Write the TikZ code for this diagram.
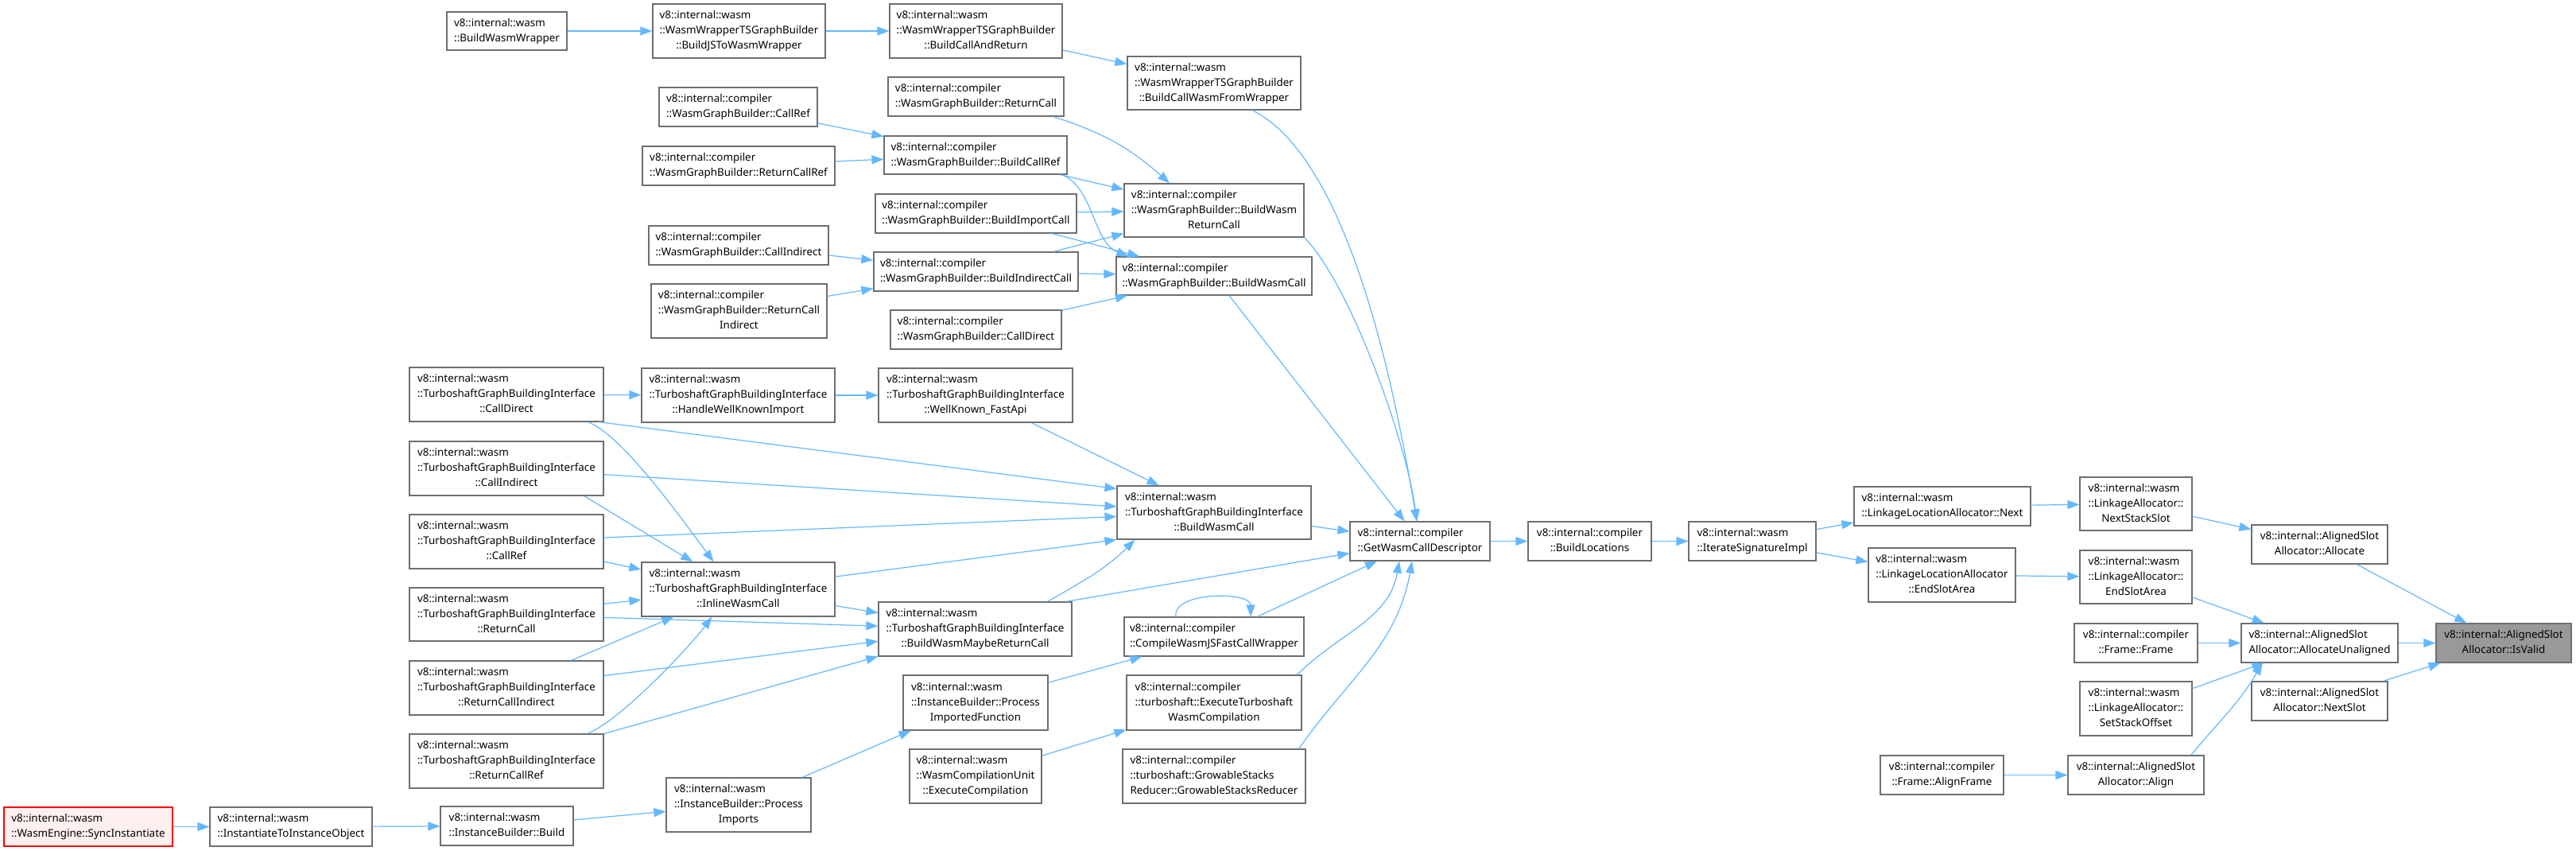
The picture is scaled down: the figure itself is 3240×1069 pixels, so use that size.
\documentclass[tikz,border=0pt]{standalone}
\usepackage{fontspec}
\setmainfont{Noto Sans}
\usetikzlibrary{arrows.meta}

\definecolor{edgeblue}{HTML}{63B8FF}
\definecolor{boxline}{HTML}{6E6E6E}
\definecolor{selfill}{HTML}{999999}
\definecolor{rootfill}{HTML}{FFF0F0}

% label: leading lines flush left, last line centred
\newcommand\fnlabel[2]{\begin{tabular}{@{}l@{}}#1\\\multicolumn{1}{@{}c@{}}{#2}\end{tabular}}
% box from its corners (x1,y1) (x2,y2) in pixels
\newcommand\fnbox[7][]{%
  \pgfmathsetmacro\cx{(#3+#5)/2}\pgfmathsetmacro\cy{(#4+#6)/2}%
  \pgfmathsetmacro\ww{#5-#3}\pgfmathsetmacro\hh{#6-#4}%
  \node[fn,#1,minimum width=\ww pt,minimum height=\hh pt] (#2) at (\cx,\cy) {#7};}

\tikzset{
  fn/.style={draw=boxline,fill=white,line width=1.2pt,inner sep=2pt,
    font=\fontsize{13.4}{19}\selectfont},
  selected/.style={fill=selfill},
  root/.style={draw=red,fill=rootfill},
  call/.style={draw=edgeblue,line width=1.2pt,-{Triangle[length=15pt,width=11pt]}}
}

\begin{document}
\begin{tikzpicture}[x=1pt,y=-1pt]
  \path[use as bounding box,fill=white] (0,0) rectangle (3240,1069);

  % wrapper chain
  \fnbox{wrap}{562}{15}{713}{63}{\fnlabel{v8::internal::wasm}{::BuildWasmWrapper}}
  \fnbox{jsw}{821}{5}{1038}{73}{\fnlabel{v8::internal::wasm\\::WasmWrapperTSGraphBuilder}{::BuildJSToWasmWrapper}}
  \fnbox{callret}{1119}{5}{1336}{73}{\fnlabel{v8::internal::wasm\\::WasmWrapperTSGraphBuilder}{::BuildCallAndReturn}}
  \fnbox{fromwrap}{1418}{71}{1636}{138}{\fnlabel{v8::internal::wasm\\::WasmWrapperTSGraphBuilder}{::BuildCallWasmFromWrapper}}

  % WasmGraphBuilder
  \fnbox{gcallref}{829}{110}{1028}{159}{\fnlabel{v8::internal::compiler}{::WasmGraphBuilder::CallRef}}
  \fnbox{greturncall}{1117}{97}{1338}{146}{\fnlabel{v8::internal::compiler}{::WasmGraphBuilder::ReturnCall}}
  \fnbox{gbcallref}{1112}{171}{1342}{219}{\fnlabel{v8::internal::compiler}{::WasmGraphBuilder::BuildCallRef}}
  \fnbox{gretcallref}{808}{184}{1050}{233}{\fnlabel{v8::internal::compiler}{::WasmGraphBuilder::ReturnCallRef}}
  \fnbox{gbwrc}{1414}{231}{1640}{298}{\fnlabel{v8::internal::compiler\\::WasmGraphBuilder::BuildWasm}{ReturnCall}}
  \fnbox{gimport}{1101}{244}{1354}{293}{\fnlabel{v8::internal::compiler}{::WasmGraphBuilder::BuildImportCall}}
  \fnbox{gcallind}{816}{284}{1042}{333}{\fnlabel{v8::internal::compiler}{::WasmGraphBuilder::CallIndirect}}
  \fnbox{gbindcall}{1099}{317}{1356}{366}{\fnlabel{v8::internal::compiler}{::WasmGraphBuilder::BuildIndirectCall}}
  \fnbox{gbwc}{1404}{323}{1650}{371}{\fnlabel{v8::internal::compiler}{::WasmGraphBuilder::BuildWasmCall}}
  \fnbox{gretcallind}{819}{357}{1040}{425}{\fnlabel{v8::internal::compiler\\::WasmGraphBuilder::ReturnCall}{Indirect}}
  \fnbox{gcalldirect}{1120}{390}{1335}{439}{\fnlabel{v8::internal::compiler}{::WasmGraphBuilder::CallDirect}}

  % TurboshaftGraphBuildingInterface
  \fnbox{tcalldirect}{515}{462}{759}{530}{\fnlabel{v8::internal::wasm\\::TurboshaftGraphBuildingInterface}{::CallDirect}}
  \fnbox{twellknown}{807}{463}{1050}{531}{\fnlabel{v8::internal::wasm\\::TurboshaftGraphBuildingInterface}{::HandleWellKnownImport}}
  \fnbox{tfastapi}{1105}{463}{1349}{531}{\fnlabel{v8::internal::wasm\\::TurboshaftGraphBuildingInterface}{::WellKnown\_FastApi}}
  \fnbox{tcallind}{515}{555}{759}{623}{\fnlabel{v8::internal::wasm\\::TurboshaftGraphBuildingInterface}{::CallIndirect}}
  \fnbox{tbwc}{1405}{611}{1649}{678}{\fnlabel{v8::internal::wasm\\::TurboshaftGraphBuildingInterface}{::BuildWasmCall}}
  \fnbox{tcallref}{515}{647}{759}{715}{\fnlabel{v8::internal::wasm\\::TurboshaftGraphBuildingInterface}{::CallRef}}
  \fnbox{tinline}{807}{707}{1050}{775}{\fnlabel{v8::internal::wasm\\::TurboshaftGraphBuildingInterface}{::InlineWasmCall}}
  \fnbox{treturncall}{515}{739}{759}{806}{\fnlabel{v8::internal::wasm\\::TurboshaftGraphBuildingInterface}{::ReturnCall}}
  \fnbox{tmaybe}{1105}{757}{1348}{825}{\fnlabel{v8::internal::wasm\\::TurboshaftGraphBuildingInterface}{::BuildWasmMaybeReturnCall}}
  \fnbox{tretcallind}{515}{831}{759}{899}{\fnlabel{v8::internal::wasm\\::TurboshaftGraphBuildingInterface}{::ReturnCallIndirect}}
  \fnbox{tretcallref}{515}{923}{759}{991}{\fnlabel{v8::internal::wasm\\::TurboshaftGraphBuildingInterface}{::ReturnCallRef}}

  % instance builder and compilation
  \fnbox{fastcall}{1414}{776}{1640}{825}{\fnlabel{v8::internal::compiler}{::CompileWasmJSFastCallWrapper}}
  \fnbox{procfn}{1136}{849}{1318}{918}{\fnlabel{v8::internal::wasm\\::InstanceBuilder::Process}{ImportedFunction}}
  \fnbox{exturbo}{1417}{849}{1637}{918}{\fnlabel{v8::internal::compiler\\::turboshaft::ExecuteTurboshaft}{WasmCompilation}}
  \fnbox{excomp}{1144}{942}{1310}{1010}{\fnlabel{v8::internal::wasm\\::WasmCompilationUnit}{::ExecuteCompilation}}
  \fnbox{growable}{1412}{942}{1642}{1010}{\fnlabel{v8::internal::compiler\\::turboshaft::GrowableStacks}{Reducer::GrowableStacksReducer}}
  \fnbox{procimports}{838}{978}{1020}{1046}{\fnlabel{v8::internal::wasm\\::InstanceBuilder::Process}{Imports}}
  \fnbox[root]{sync}{5}{1015}{217}{1064}{\fnlabel{v8::internal::wasm}{::WasmEngine::SyncInstantiate}}
  \fnbox{instobj}{264}{1015}{468}{1064}{\fnlabel{v8::internal::wasm}{::InstantiateToInstanceObject}}
  \fnbox{ibuild}{554}{1014}{721}{1063}{\fnlabel{v8::internal::wasm}{::InstanceBuilder::Build}}

  % descriptor and allocators
  \fnbox{getdesc}{1698}{656}{1874}{705}{\fnlabel{v8::internal::compiler}{::GetWasmCallDescriptor}}
  \fnbox{buildloc}{1922}{656}{2077}{705}{\fnlabel{v8::internal::compiler}{::BuildLocations}}
  \fnbox{itersig}{2124}{656}{2284}{705}{\fnlabel{v8::internal::wasm}{::IterateSignatureImpl}}
  \fnbox{llanext}{2332}{612}{2554}{661}{\fnlabel{v8::internal::wasm}{::LinkageLocationAllocator::Next}}
  \fnbox{llaend}{2350}{689}{2535}{757}{\fnlabel{v8::internal::wasm\\::LinkageLocationAllocator}{::EndSlotArea}}
  \fnbox{alignframe}{2365}{950}{2520}{999}{\fnlabel{v8::internal::compiler}{::Frame::AlignFrame}}
  \fnbox{nextstack}{2616}{600}{2757}{667}{\fnlabel{v8::internal::wasm\\::LinkageAllocator::}{NextStackSlot}}
  \fnbox{laend}{2616}{692}{2757}{759}{\fnlabel{v8::internal::wasm\\::LinkageAllocator::}{EndSlotArea}}
  \fnbox{frame}{2609}{784}{2764}{833}{\fnlabel{v8::internal::compiler}{::Frame::Frame}}
  \fnbox{setoffset}{2616}{857}{2757}{925}{\fnlabel{v8::internal::wasm\\::LinkageAllocator::}{SetStackOffset}}
  \fnbox{align}{2601}{950}{2772}{999}{\fnlabel{v8::internal::AlignedSlot}{Allocator::Align}}
  \fnbox{allocate}{2832}{660}{3003}{709}{\fnlabel{v8::internal::AlignedSlot}{Allocator::Allocate}}
  \fnbox{allocunal}{2819}{784}{3016}{833}{\fnlabel{v8::internal::AlignedSlot}{Allocator::AllocateUnaligned}}
  \fnbox{nextslot}{2832}{857}{3003}{906}{\fnlabel{v8::internal::AlignedSlot}{Allocator::NextSlot}}
  \fnbox[selected]{isvalid}{3064}{784}{3234}{833}{\fnlabel{v8::internal::AlignedSlot}{Allocator::IsValid}}

  % calls: wrapper chain
  \draw[call] (wrap) -- (jsw);
  \draw[call] (jsw) -- (callret);
  \draw[call] (callret) -- (fromwrap);
  \draw[call] ([xshift=48pt]fromwrap.south) .. controls +(125,62) and +(-25,-150) .. ([xshift=-4pt]getdesc.north);

  % calls: WasmGraphBuilder
  \draw[call] (gcallref) -- (gbcallref);
  \draw[call] (gretcallref) -- (gbcallref);
  \draw[call] ([xshift=-14pt]greturncall.south east) to[bend left=12] ([xshift=-56pt]gbwrc.north);
  \draw[call] (gbcallref) -- (gbwrc);
  \draw[call] ([xshift=-7pt]gbcallref.south east) .. controls +(40,16) and +(-45,-18) .. ([xshift=16pt]gbwc.north west);
  \draw[call] (gimport) -- (gbwrc);
  \draw[call] (gimport) -- (gbwc);
  \draw[call] (gcallind) -- (gbindcall);
  \draw[call] (gretcallind) -- (gbindcall);
  \draw[call] (gbindcall) -- (gbwrc);
  \draw[call] (gbindcall) -- (gbwc);
  \draw[call] (gcalldirect) -- (gbwc);
  \draw[call] (gbwrc.south east) .. controls +(60,62) and +(-12,-95) .. ([xshift=-4pt]getdesc.north);
  \draw[call] (gbwc) -- (getdesc);

  % calls: TurboshaftGraphBuildingInterface
  \draw[call] (tcalldirect) -- (twellknown);
  \draw[call] (twellknown) -- (tfastapi);
  \draw[call] (tfastapi) -- (tbwc);
  \draw[call] ([xshift=-6pt]tcalldirect.south east) -- ([yshift=30pt]tbwc.west);
  \draw[call] ([xshift=-20pt]tcalldirect.south east) .. controls +(40,15) and +(-50,-68) .. ([xshift=-31pt]tinline.north);
  \draw[call] (tcallind) -- (tbwc);
  \draw[call] ([xshift=-25pt]tcallind.south east) -- (tinline);
  \draw[call] (tcallref) -- (tbwc);
  \draw[call] (tcallref) -- (tinline);
  \draw[call] (treturncall) -- (tinline);
  \draw[call] (treturncall) -- (tmaybe);
  \draw[call] (tretcallind) -- (tinline);
  \draw[call] (tretcallind) -- (tmaybe);
  \draw[call] ([xshift=-21pt]tretcallref.north east) .. controls +(40,-15) and +(-30,40) .. ([xshift=-33pt]tinline.south);
  \draw[call] (tretcallref) -- (tmaybe);
  \draw[call] (tinline) -- (tbwc.south west);
  \draw[call] (tinline) -- (tmaybe);
  \draw[call] ([xshift=-31pt]tmaybe.north east) to[out=30,in=-135] ([xshift=23pt]tbwc.south west);
  \draw[call] ([xshift=-8pt]tmaybe.north east) -- (getdesc);
  \draw[call] (tbwc) -- (getdesc);

  % calls: instance builder and compilation
  \draw[call] ([xshift=-48pt]fastcall.north) .. controls +(-5,-32) and +(0,-32) .. ([xshift=46pt]fastcall.north);
  \draw[call] (fastcall) -- (getdesc);
  \draw[call] (procfn) -- (fastcall);
  \draw[call] (procimports) -- (procfn);
  \draw[call] (ibuild) -- (procimports);
  \draw[call] (instobj) -- (ibuild);
  \draw[call] (sync) -- (instobj);
  \draw[call] (excomp) -- (exturbo);
  \draw[call] ([xshift=-6pt]exturbo.north east) to[out=45,in=-100] ([xshift=-26pt]getdesc.south);
  \draw[call] ([xshift=-9pt]growable.north east) to[out=55,in=-100] ([xshift=-10pt]getdesc.south);

  % calls: descriptor and allocators
  \draw[call] (getdesc) -- (buildloc);
  \draw[call] (buildloc) -- (itersig);
  \draw[call] (itersig) -- (llanext);
  \draw[call] (itersig) -- (llaend);
  \draw[call] (llanext) -- (nextstack);
  \draw[call] (llaend) -- (laend);
  \draw[call] (nextstack) -- (allocate);
  \draw[call] (laend) -- (allocunal);
  \draw[call] (frame) -- (allocunal);
  \draw[call] (setoffset) -- (allocunal);
  \draw[call] ([xshift=-17pt]align.north east) to[out=50,in=-120] ([xshift=-72pt]allocunal.south);
  \draw[call] (alignframe) -- (align);
  \draw[call] (allocate) -- (isvalid);
  \draw[call] (allocunal) -- (isvalid);
  \draw[call] (nextslot) -- (isvalid);
\end{tikzpicture}
\end{document}
